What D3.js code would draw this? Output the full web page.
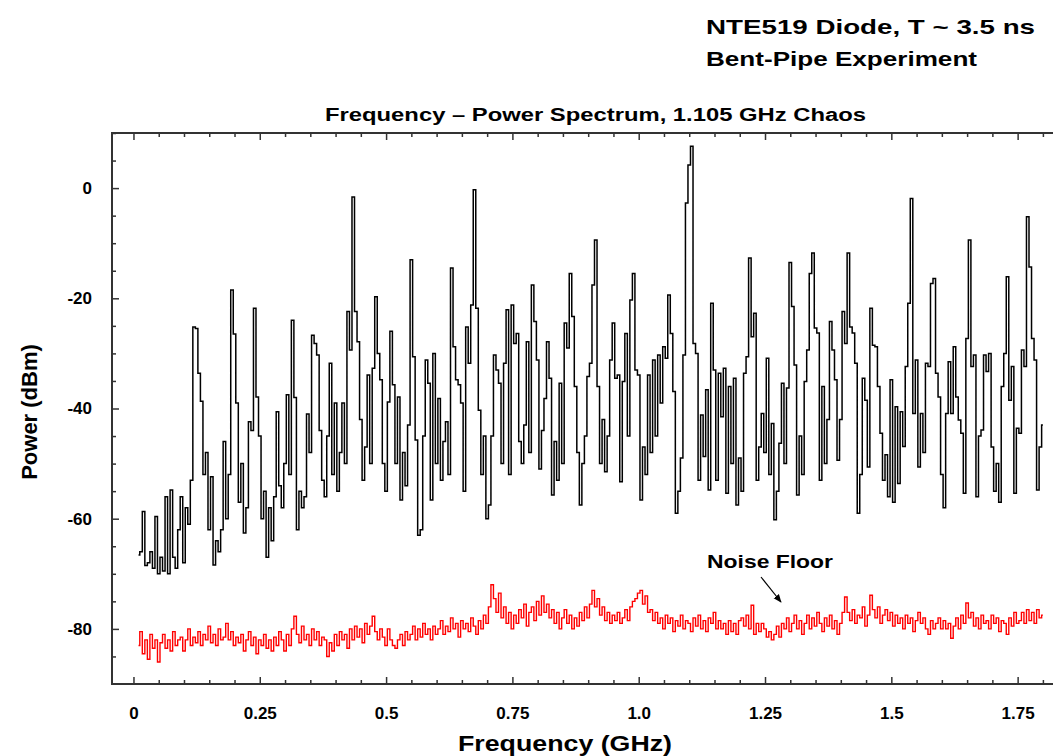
<!DOCTYPE html>
<html>
<head>
<meta charset="utf-8">
<script src="https://cdn.jsdelivr.net/npm/d3@7"></script>
<style>
  body { margin: 0; background: #fff; }
  text { font-family: "Liberation Sans", Arial, sans-serif; font-weight: bold; fill: #000; }
</style>
</head>
<body>
<svg id="chart"></svg>
<script>
// spectrum analyser bins: start frequency and bin width (GHz)
const fStart = 0.01;
const fStep = 0.005;

// chaos spectrum, dBm (one value per bin)
const chaosPower = [
  -66.6, -66, -58.7, -68.5, -68, -66, -69, -59.6, -70, -67,
  -69.5, -56, -70, -54.8, -67, -69, -62, -56, -68, -58,
  -61, -53, -25.2, -25.5, -33.6, -38.7, -52, -48, -62, -52.4,
  -68.4, -64, -66, -62, -46, -60, -52, -18.5, -26.5, -39,
  -57, -50, -62.6, -58, -42.4, -44, -21.8, -37.9, -45, -60,
  -55, -67, -58, -64, -56, -40.6, -54, -58, -50, -37.5,
  -52, -24, -38, -62, -55, -58, -56, -41, -48, -26.7,
  -28.2, -30.3, -44, -53, -56, -45, -31.8, -52, -39, -55,
  -48, -39, -50, -22.4, -29.4, -1.6, -22.4, -27.9, -42, -53,
  -47, -33.9, -50, -32.7, -19.7, -30, -34.8, -50, -55, -38.8,
  -26, -35.7, -50, -37.9, -56.6, -48, -54, -43, -13, -30.6,
  -45.7, -63, -62, -45, -31.2, -35.4, -56.6, -30, -50, -38.2,
  -53, -46, -42.4, -52, -14.5, -28.8, -34.8, -35.7, -39, -55,
  -25.2, -31.8, -21.2, -0.3, -21.8, -40.3, -52, -45, -60, -57.5,
  -45, -30.3, -33, -35.4, -50, -31.8, -22.1, -52, -21.2, -28.2,
  -26.4, -46, -50, -43, -27.9, -48, -17.6, -24.2, -31.2, -51,
  -44, -38.2, -27.9, -34.5, -55.7, -46, -53, -35.4, -50, -24.5,
  -29, -15.5, -23.3, -36, -48, -57.5, -50, -45, -34.2, -31.8,
  -17.6, -9.4, -36, -50, -42, -51.5, -45, -31.2, -24.5, -34.5,
  -33.9, -53.3, -35.1, -26.4, -45, -20.3, -15.5, -33, -33.9, -56.6,
  -47, -52, -33.9, -48, -31.2, -45, -30.3, -39, -28.8, -30.9,
  -19.4, -26.4, -36.9, -59, -55, -49, -30.3, -2.7, 4.2, 7.6,
  -28.2, -30, -53, -41.2, -48.7, -36.6, -54.8, -20.9, -33, -53,
  -33.6, -41.5, -32.7, -55.4, -36, -50, -34.5, -57.5, -49, -55,
  -33.6, -30.6, -12.7, -27, -22.7, -53, -47, -40.9, -48, -30.9,
  -52, -42.7, -60.2, -55, -46.3, -35.4, -50, -36.3, -13.5, -21.5,
  -32.1, -55.7, -45, -52, -35.1, -29.4, -15.5, -11.8, -25.4, -26.3,
  -53, -36, -50, -42, -24.2, -29.4, -34.8, -49.4, -42, -22.4,
  -28.2, -11.8, -25.2, -26.3, -31.8, -59, -52, -34.5, -38.5, -50.6,
  -21.8, -28.5, -28.8, -36, -44.5, -53, -48.4, -56, -34.8, -57,
  -39.7, -53.6, -40.6, -46.9, -32.4, -20.9, -1.9, -40.9, -31.2, -50.6,
  -40.9, -48, -31.8, -32.4, -17.3, -16.4, -33.6, -37.9, -52, -58,
  -40.9, -31.5, -40.9, -28.8, -37.9, -42.1, -44.5, -55.4, -27.3, -9.4,
  -32.4, -30.3, -56, -45, -43.9, -30.3, -33.3, -30, -47, -55,
  -50, -57, -36, -30, -16.1, -38.5, -32.4, -55.4, -43.6, -44.5,
  -29.4, -32.4, -5.2, -14.3, -27.3, -31.2, -54.8, -47, -43
];

// noise floor, dBm
const noisePower = [
  -83, -80.5, -84.5, -82, -85.5, -81, -83.5, -82, -86, -82.5,
  -81, -83.5, -82, -84, -80.5, -83, -82, -81.5, -84, -82,
  -80, -83, -81.5, -82.5, -80.5, -83, -81, -82, -79.5, -82.5,
  -81, -83, -80, -82, -81.5, -79, -82, -80.5, -83, -81.5,
  -82.5, -81, -84, -82, -80.5, -83, -81.5, -84.5, -82, -83,
  -81, -83.5, -82, -84, -81.5, -83, -80.5, -82, -84, -81,
  -83, -80, -77.7, -81, -82.5, -79.5, -82, -81, -83, -80,
  -82, -80.5, -83, -81.5, -82, -85, -82.5, -84, -81, -83,
  -80.5, -82, -81, -83.5, -80, -82, -79.5, -81.5, -80, -82.5,
  -79, -81, -79.5, -77.7, -80.5, -82, -80, -81.5, -83, -80,
  -82, -83, -83.5, -82, -81, -83, -80.5, -82, -81, -79.5,
  -82, -80, -81.5, -79, -81, -80, -82, -79.5, -81, -80,
  -78.5, -81, -79.5, -80.5, -78, -80, -79, -81.5, -78.5, -80,
  -79, -80.5, -78, -79.5, -81, -78.5, -80, -77.5, -79, -76,
  -72, -74.5, -77, -73.5, -78, -76, -79, -77, -80, -77.5,
  -79, -76.5, -78, -75.5, -79.5, -77, -76, -78.5, -75, -77.5,
  -74, -77, -75.5, -78, -76.5, -79, -77, -80, -78, -76.5,
  -79, -77.5, -80, -78, -79.5, -77, -78.5, -76, -78, -75.5,
  -73, -76, -74.5, -77.5, -76, -78.5, -77, -79, -77.5, -78.5,
  -77, -79, -78, -76.5, -78.5, -76, -75, -74.5, -73.5, -73,
  -75.5, -74, -77, -76.5, -78.5, -77, -79, -78, -80, -77.5,
  -79, -78, -80.5, -78.5, -79.5, -77.5, -80, -78.5, -79, -80.5,
  -78, -79.5, -77.5, -80, -78.5, -80.5, -78, -79, -77, -80,
  -78.5, -80, -79, -81, -78.5, -80.5, -79, -81, -78.5, -78,
  -79.5, -77.5, -80, -75.7, -81, -79, -80.5, -79, -80, -81.5,
  -80.5, -82, -81, -79.5, -81.5, -79, -80, -78, -80.5, -79,
  -77.5, -80, -78.5, -81, -79, -77.5, -80, -78, -79.5, -77,
  -79, -80.5, -78, -79.5, -77.5, -80, -78.5, -81, -79, -77,
  -74.2, -77, -78.5, -76.5, -79, -77.5, -78, -76, -79.5, -77.5,
  -73.9, -76.5, -78, -76, -79, -77.5, -76.5, -78.5, -77, -79.5,
  -77.5, -79, -78, -80, -77.5, -79, -78, -80.5, -78.5, -77,
  -79, -78, -80, -81, -78.5, -80, -79, -78, -80, -78.5,
  -80, -79, -81.7, -79.5, -78, -80, -77.5, -79, -75.3, -78,
  -77, -79.5, -78, -80, -77.5, -79, -78.5, -80, -77.5, -79,
  -78, -80.5, -78.5, -79, -81, -78, -79.5, -77, -79, -78.5,
  -77, -79, -76.5, -78.5, -77, -79, -76.5, -78, -77.5
];

const xMajor = [0, 0.25, 0.5, 0.75, 1.0, 1.25, 1.5, 1.75];
const xMajorLabels = ['0', '0.25', '0.5', '0.75', '1.0', '1.25', '1.5', '1.75'];
const yMajor = [0, -20, -40, -60, -80];

const width = 1053, height = 756;
const plot = {left: 112, right: 1053, top: 133, bottom: 684};

const svg = d3.select('#chart')
    .attr('width', width)
    .attr('height', height);

const x = d3.scaleLinear()
    .domain([-0.0425, 1.82])
    .range([plot.left, plot.right]);
const y = d3.scaleLinear()
    .domain([-90, 10])
    .range([plot.bottom, plot.top]);

svg.append('defs').append('clipPath').attr('id', 'plot-clip')
  .append('rect')
    .attr('x', plot.left)
    .attr('y', plot.top - 2)
    .attr('width', plot.right - plot.left)
    .attr('height', plot.bottom - plot.top + 2);

// minor ticks (every 0.05 GHz / 5 dB)
const xMinor = d3.range(0, 1.8201, 0.05).filter(v => Math.abs(v / 0.25 - Math.round(v / 0.25)) > 1e-6);
const yMinor = d3.range(-85, 10.01, 5).filter(v => v % 20 !== 0);

function styleAxis(g) {
  g.select('.domain').remove();
  g.selectAll('.tick line').attr('stroke', '#333').attr('stroke-width', 1.5);
}

function styleLabels(g) {
  g.selectAll('text').attr('font-size', 17).attr('fill', '#000')
      .style('font-family', '"Liberation Sans", Arial, sans-serif').style('font-weight', 'bold');
}

// bottom axis
svg.append('g')
    .attr('transform', `translate(0,${plot.bottom})`)
    .call(d3.axisBottom(x).tickValues(xMajor).tickSize(-7).tickPadding(23)
        .tickFormat((d, i) => xMajorLabels[i]))
    .call(styleAxis)
    .call(styleLabels);
svg.append('g')
    .attr('transform', `translate(0,${plot.bottom})`)
    .call(d3.axisBottom(x).tickValues(xMinor).tickSize(-4).tickFormat(''))
    .call(styleAxis);

// top axis (mirror ticks)
svg.append('g')
    .attr('transform', `translate(0,${plot.top})`)
    .call(d3.axisTop(x).tickValues(xMajor).tickSize(-7).tickFormat(''))
    .call(styleAxis);
svg.append('g')
    .attr('transform', `translate(0,${plot.top})`)
    .call(d3.axisTop(x).tickValues(xMinor).tickSize(-4).tickFormat(''))
    .call(styleAxis);

// left axis, plain hyphen for the minus sign as in the original
svg.append('g')
    .attr('transform', `translate(${plot.left},0)`)
    .call(d3.axisLeft(y).tickValues(yMajor).tickSize(-7).tickPadding(20).tickFormat(d => String(d)))
    .call(styleAxis)
    .call(styleLabels);
svg.append('g')
    .attr('transform', `translate(${plot.left},0)`)
    .call(d3.axisLeft(y).tickValues(yMinor).tickSize(-4).tickFormat(''))
    .call(styleAxis);

// frame: left, top, bottom (right edge runs off the picture)
svg.append('path')
    .attr('d', `M${plot.right + 2},${plot.top}H${plot.left}V${plot.bottom}H${plot.right + 2}`)
    .attr('fill', 'none')
    .attr('stroke', '#333')
    .attr('stroke-width', 2);

const line = d3.line()
    .x((d, i) => x(fStart + i * fStep))
    .y(d => y(d))
    .curve(d3.curveStep);

const data = svg.append('g').attr('clip-path', 'url(#plot-clip)');

data.append('path')
    .datum(noisePower)
    .attr('fill', 'none')
    .attr('stroke', '#ff0000')
    .attr('stroke-width', 1.4)
    .attr('d', line);

data.append('path')
    .datum(chaosPower)
    .attr('fill', 'none')
    .attr('stroke', '#000')
    .attr('stroke-width', 1.5)
    .attr('d', line);

// texts
function label(txt, tx, ty, size, len) {
  return svg.append('text')
      .attr('x', tx)
      .attr('y', ty)
      .attr('font-size', size)
      .attr('textLength', len)
      .attr('lengthAdjust', 'spacingAndGlyphs')
      .text(txt);
}

label('NTE519 Diode, T ~ 3.5 ns', 706, 34, 21, 329);
label('Bent-Pipe Experiment', 706, 66, 21, 271);
label('Frequency \u2013 Power Spectrum, 1.105 GHz Chaos', 325, 121, 18, 541);
label('Noise Floor', 707, 568, 18, 126);
label('Frequency (GHz)', 458, 751, 22, 214);

svg.append('text')
    .attr('transform', 'translate(37,412) rotate(-90)')
    .attr('text-anchor', 'middle')
    .attr('font-size', 22)
    .text('Power (dBm)');

// arrow pointing at the noise floor
svg.append('defs').append('marker')
    .attr('id', 'arrowhead')
    .attr('viewBox', '0 0 10 10')
    .attr('refX', 9).attr('refY', 5)
    .attr('markerWidth', 7).attr('markerHeight', 7)
    .attr('orient', 'auto')
  .append('path')
    .attr('d', 'M0,1L10,5L0,9Z')
    .attr('fill', '#000');

svg.append('line')
    .attr('x1', 761).attr('y1', 577)
    .attr('x2', 781).attr('y2', 602)
    .attr('stroke', '#000')
    .attr('stroke-width', 1.2)
    .attr('marker-end', 'url(#arrowhead)');
</script>
</body>
</html>
